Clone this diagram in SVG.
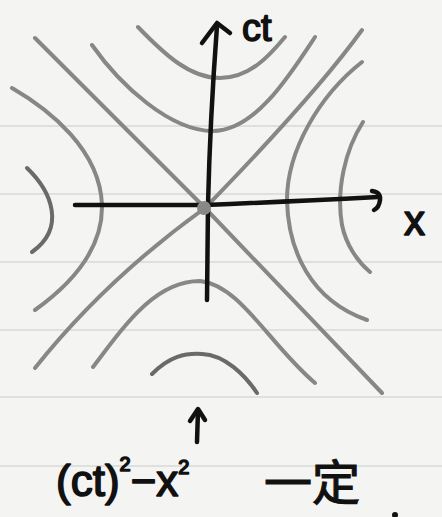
<svg xmlns="http://www.w3.org/2000/svg" width="442" height="517" viewBox="0 0 442 517">
<style>
.rule{stroke:#d9d9d7;stroke-width:1.5}
.hyp{fill:none;stroke:#878787;stroke-width:4;stroke-linecap:round;stroke-linejoin:round}
.dark{stroke:#6a6a6a}
.ink{fill:none;stroke:#111;stroke-width:4.5;stroke-linecap:round;stroke-linejoin:round}
.hand{font-family:"Liberation Sans","DejaVu Sans",sans-serif;fill:#111;stroke:#111;stroke-width:1.6;stroke-linejoin:round}
.cjk{font-family:"Noto Sans CJK SC","Noto Sans CJK JP",sans-serif;fill:#111;stroke:#111;stroke-width:1.2}
</style>
<rect width="442" height="517" fill="#f4f4f2"/>
<g id="paper-rules">
<line class="rule" x1="0" y1="126" x2="442" y2="126"/>
<line class="rule" x1="0" y1="194" x2="442" y2="194"/>
<line class="rule" x1="0" y1="262" x2="442" y2="262"/>
<line class="rule" x1="0" y1="330" x2="442" y2="330"/>
<line class="rule" x1="0" y1="397" x2="442" y2="397"/>
<line class="rule" x1="0" y1="466" x2="442" y2="466"/>
</g>
<g id="hyperbolas">
<path class="hyp" d="M138,27 C165,55 190,78 220,78 C250,78 270,55 285,37"/>
<path class="hyp" d="M92,45 C120,85 170,131 213,131 C255,131 290,75 315,37"/>
<path class="hyp" d="M12,88 C50,110 100,150 102,205 C103,250 70,285 35,310"/>
<path class="hyp dark" d="M27,168 C52,192 66,228 32,252"/>
<path class="hyp" d="M93,367 C125,325 155,281 200,281 C240,285 270,345 315,383"/>
<path class="hyp dark" d="M152,374 C170,356 185,353 202,354 C225,355 245,375 257,393"/>
<path class="hyp" d="M362,62 C320,95 287,150 287,200 C288,250 310,300 367,320"/>
<path class="hyp" d="M363,122 C345,150 336,190 342,225 C346,245 358,262 370,272"/>
</g>
<g id="asymptotes">
<path class="hyp" d="M35,38 L205,208 L382,393"/>
<path class="hyp" d="M362,30 Q315,95 205,208 Q105,280 35,368"/>
</g>
<g id="axes">
<path id="ct-axis" class="ink" d="M207,300 L208,205 Q210,120 217,26"/>
<path class="ink" d="M202,43 L217,23 L230,33"/>
<path id="x-axis" class="ink" d="M75,205 L205,205 Q280,202 378,197"/>
<path class="ink" d="M372,191 Q381,192 380,200 Q379,208 374,210"/>
<circle id="origin" cx="204" cy="208" r="7" fill="#888"/>
</g>
<g id="labels">
<text class="hand" x="242" y="41" font-size="38">ct</text>
<text class="hand" x="404" y="235" font-size="42">x</text>
</g>
<g id="note">
<path class="ink" d="M197,442 L198,410"/>
<path class="ink" d="M190,421 L198,409 L205,420"/>
<text class="hand" x="56" y="496" font-size="44">(ct)<tspan font-size="20" dy="-25">2</tspan><tspan dy="25">−x</tspan><tspan font-size="20" dy="-22">2</tspan></text>
<text class="cjk" x="264" y="500" font-size="48">一定</text>
<circle cx="395" cy="515" r="3" fill="#111"/>
</g>
</svg>
